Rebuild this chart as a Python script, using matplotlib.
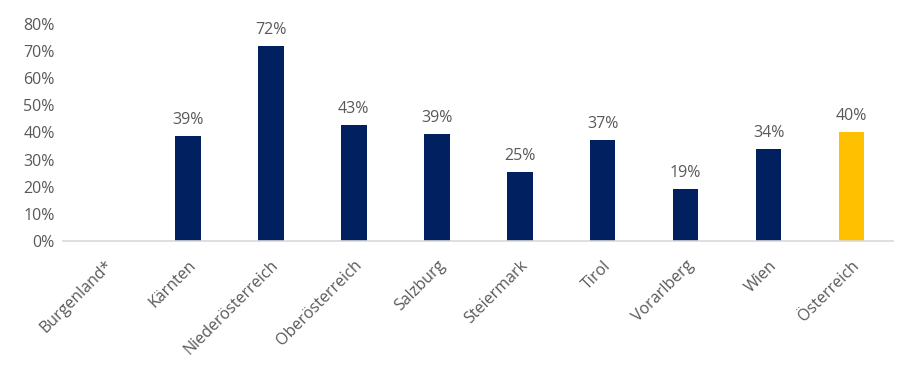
import matplotlib.pyplot as plt
import numpy as np

categories = ["Burgenland*", "Kärnten", "Niederösterreich", "Oberösterreich",
              "Salzburg", "Steiermark", "Tirol", "Vorarlberg", "Wien", "Österreich"]
values = [np.nan, 38.7, 71.7, 42.6, 39.4, 25.3, 37.3, 19.2, 34.0, 40.2]
labels = ["", "39%", "72%", "43%", "39%", "25%", "37%", "19%", "34%", "40%"]
yticks = [0, 10, 20, 30, 40, 50, 60, 70, 80]

navy = "#002060"
gold = "#FFC000"
txt = "#595959"

plt.rcParams['font.family'] = ['Open Sans', 'DejaVu Sans']
fs = 11.5

fig = plt.figure(figsize=(9.16, 3.74), dpi=100)
ax = fig.add_axes([0.069, 0.356, 0.906, 0.58])

x = np.arange(len(categories))
colors = [navy] * (len(categories) - 1) + [gold]
bars = ax.bar(x, values, width=0.31, color=colors)

for xi, v, lab in zip(x, values, labels):
    if lab:
        ax.text(xi, v + 3, lab, ha='center', va='bottom', fontsize=fs, color=txt)

ax.set_xlim(-0.5, len(categories) - 0.5)
ax.set_ylim(0, 80)
ax.set_yticks(yticks)
ax.set_yticklabels([f"{t}%" for t in yticks], fontsize=fs, color=txt)
ax.set_xticks(x)
ax.set_xticklabels(categories, rotation=45, ha='right', rotation_mode='anchor',
                   fontsize=fs, color=txt)
ax.tick_params(axis='both', length=0)
ax.tick_params(axis='x', pad=12)
ax.tick_params(axis='y', pad=6)

for s in ['top', 'right', 'left']:
    ax.spines[s].set_visible(False)
ax.spines['bottom'].set_color('#d9d9d9')
ax.spines['bottom'].set_linewidth(1.2)

fig.savefig("out.png", dpi=100)
